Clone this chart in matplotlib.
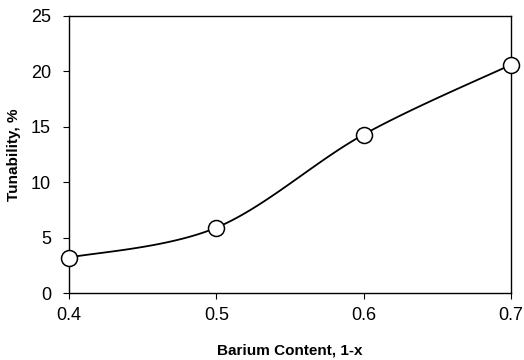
import numpy as np
import matplotlib
matplotlib.use("Agg")
import matplotlib.pyplot as plt

plt.rcParams['font.family'] = ['Liberation Sans', 'DejaVu Sans']

barium = [0.4, 0.5, 0.6, 0.7]
tunability = [3.2, 5.9, 14.3, 20.6]
x_ticks = [0.4, 0.5, 0.6, 0.7]
y_ticks = [0, 5, 10, 15, 20, 25]


def smooth_curve(xs, ys, n=40):
    """Catmull-Rom style smoothing through the points (spreadsheet-style)."""
    xs = np.asarray(xs, float)
    ys = np.asarray(ys, float)
    px = np.concatenate([[xs[0]], xs, [xs[-1]]])
    py = np.concatenate([[ys[0]], ys, [ys[-1]]])
    out_x, out_y = [], []
    t = np.linspace(0, 1, n)
    for i in range(1, len(px) - 2):
        p0 = np.array([px[i], py[i]])
        p3 = np.array([px[i + 1], py[i + 1]])
        c1 = p0 + (np.array([px[i + 1], py[i + 1]]) - np.array([px[i - 1], py[i - 1]])) / 6
        c2 = p3 - (np.array([px[i + 2], py[i + 2]]) - np.array([px[i], py[i]])) / 6
        b = ((1 - t) ** 3)[:, None] * p0 + (3 * (1 - t) ** 2 * t)[:, None] * c1 \
            + (3 * (1 - t) * t ** 2)[:, None] * c2 + (t ** 3)[:, None] * p3
        out_x.extend(b[:, 0])
        out_y.extend(b[:, 1])
    return np.array(out_x), np.array(out_y)


fig = plt.figure(figsize=(5.24, 3.6), dpi=100)
ax = fig.add_axes([0.1317, 0.186, 0.8433, 0.7696])

sx, sy = smooth_curve(barium, tunability)
ax.plot(sx, sy, color='black', lw=1.3, zorder=2)
ax.plot(barium, tunability, linestyle='none', marker='o', ms=11.5,
        mfc='white', mec='black', mew=1.1, zorder=3, clip_on=False)

ax.set_xlim(0.4, 0.7)
ax.set_ylim(0, 25)
ax.set_xticks(x_ticks)
ax.set_xticklabels([f"{v:.1f}" for v in x_ticks])
ax.set_yticks(y_ticks)
for s in ax.spines.values():
    s.set_linewidth(1.0)
    s.set_color('black')
ax.tick_params(direction='out', length=4, width=0.8, labelsize=13)
ax.tick_params(axis='x', pad=6)
ax.tick_params(axis='y', pad=9)

ax.set_xlabel('Barium Content, 1-x', fontsize=11, fontweight='bold', labelpad=14)
ax.set_ylabel('Tunability, %', fontsize=11, fontweight='bold', labelpad=7)

fig.savefig('out.png', dpi=100)
